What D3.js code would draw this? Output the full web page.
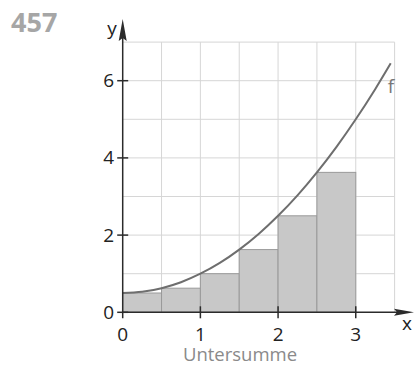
<!DOCTYPE html>
<html>
<head>
<meta charset="utf-8">
<script src="https://cdn.jsdelivr.net/npm/d3@7"></script>
<style>
  html, body { margin: 0; padding: 0; background: #fff; }
  svg { display: block; font-family: "Open Sans", "Noto Sans", sans-serif; }
</style>
</head>
<body>
<svg id="chart" width="416" height="366"></svg>
<script>
// Lower sum (Untersumme) of f on [0, 3] with strip width 0.5
const stripLeft = [0, 0.5, 1, 1.5, 2, 2.5];
const stripHeight = [0.5, 0.625, 1, 1.625, 2.5, 3.625];
const stripWidth = 0.5;

// Points on the graph of f
const curveX = [0, 0.25, 0.5, 0.75, 1, 1.25, 1.5, 1.75, 2, 2.25, 2.5, 2.75, 3, 3.25, 3.45];
const curveY = [0.5, 0.53, 0.625, 0.78, 1, 1.28, 1.625, 2.03, 2.5, 3.03, 3.625, 4.28, 5, 5.78, 6.45];

const xTicks = [0, 1, 2, 3];
const yTicks = [0, 2, 4, 6];
const xGrid = [0.5, 1, 1.5, 2, 2.5, 3, 3.5];
const yGrid = [1, 2, 3, 4, 5, 6, 7];

const svg = d3.select("#chart");
const x = d3.scaleLinear().domain([0, 3.5]).range([122.7, 394.6]);
const y = d3.scaleLinear().domain([0, 7]).range([312.3, 42.1]);

// grid
svg.append("g").selectAll("line.v").data(xGrid).join("line")
  .attr("x1", d => x(d)).attr("x2", d => x(d))
  .attr("y1", y(0)).attr("y2", y(7))
  .attr("stroke", "#d6d6d6").attr("stroke-width", 1);
svg.append("g").selectAll("line.h").data(yGrid).join("line")
  .attr("x1", x(0)).attr("x2", x(3.5))
  .attr("y1", d => y(d)).attr("y2", d => y(d))
  .attr("stroke", "#d6d6d6").attr("stroke-width", 1);

// strips
svg.append("g").selectAll("rect").data(stripLeft).join("rect")
  .attr("x", d => x(d))
  .attr("width", d => x(d + stripWidth) - x(d))
  .attr("y", (d, i) => y(stripHeight[i]))
  .attr("height", (d, i) => y(0) - y(stripHeight[i]))
  .attr("fill", "#c8c8c8")
  .attr("stroke", "#9a9a9a").attr("stroke-width", 1);

// graph of f
const pts = curveX.map((d, i) => [d, curveY[i]]);
svg.append("path")
  .attr("d", d3.line().x(d => x(d[0])).y(d => y(d[1])).curve(d3.curveNatural)(pts))
  .attr("fill", "none").attr("stroke", "#6e6e6e").attr("stroke-width", 2);

// axes
const axisColor = "#2b2b2b";
svg.append("line").attr("x1", x(0)).attr("x2", 400).attr("y1", y(0)).attr("y2", y(0))
  .attr("stroke", axisColor).attr("stroke-width", 1.5);
svg.append("path")
  .attr("d", `M414,${y(0)} L394,${y(0) - 3.5} L397,${y(0)} L394,${y(0) + 3.5} Z`)
  .attr("fill", axisColor);
svg.append("line").attr("x1", x(0)).attr("x2", x(0)).attr("y1", y(0) + 6).attr("y2", 34)
  .attr("stroke", axisColor).attr("stroke-width", 1.5);
svg.append("path")
  .attr("d", `M${x(0)},19 L${x(0) - 4},41 L${x(0)},38 L${x(0) + 4},41 Z`)
  .attr("fill", axisColor);

// ticks
svg.append("g").selectAll("line").data(xTicks.filter(d => d > 0)).join("line")
  .attr("x1", d => x(d)).attr("x2", d => x(d))
  .attr("y1", y(0) - 6).attr("y2", y(0) + 6)
  .attr("stroke", axisColor).attr("stroke-width", 1.5);
svg.append("g").selectAll("line").data(yTicks).join("line")
  .attr("x1", x(0) - 5.5).attr("x2", x(0) + 5.5)
  .attr("y1", d => y(d)).attr("y2", d => y(d))
  .attr("stroke", axisColor).attr("stroke-width", 1.5);

// tick labels
svg.append("g").selectAll("text").data(xTicks).join("text")
  .attr("x", d => x(d)).attr("y", 341)
  .attr("text-anchor", "middle").attr("font-size", 19).attr("fill", "#222")
  .text(d => d);
svg.append("g").selectAll("text").data(yTicks).join("text")
  .attr("x", 114).attr("y", d => y(d) + 6.5)
  .attr("text-anchor", "end").attr("font-size", 19).attr("fill", "#222")
  .text(d => d);

// axis names
svg.append("text").attr("x", 112).attr("y", 35).attr("text-anchor", "middle")
  .attr("font-size", 19).attr("fill", "#222").text("y");
svg.append("text").attr("x", 407).attr("y", 330).attr("text-anchor", "middle")
  .attr("font-size", 19).attr("fill", "#222").text("x");

// curve label
svg.append("text").attr("x", 391).attr("y", 93).attr("text-anchor", "middle")
  .attr("font-size", 19).attr("fill", "#777").text("f");

// caption
svg.append("text").attr("x", 240).attr("y", 361).attr("text-anchor", "middle")
  .attr("font-size", 18.5).attr("fill", "#8a8a8a").text("Untersumme");

// exercise number
svg.append("text").attr("x", 11).attr("y", 32)
  .attr("font-size", 27).attr("font-weight", "bold").attr("fill", "#a6a6a6").text("457");
</script>
</body>
</html>
